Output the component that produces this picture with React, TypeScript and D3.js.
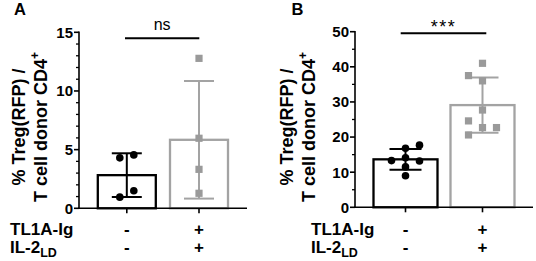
import React from "react";
import * as d3 from "d3";

// ---- data ----
const groups = ["control", "TL1A-Ig + IL-2LD"];
const rowLabels = ["TL1A-Ig", "IL-2"];
const rowSigns = [["-", "+"], ["-", "+"]];

const aControl = [4.3, 4.55, 1.5, 0.95];
const aControlSlot = [-1, 1, 1, -1];
const aTreated = [12.78, 5.97, 3.32, 1.28];
const aTreatedSlot = [0, 0, 0, 0];
const aTicks = [0, 5, 10, 15];
const aSig = "ns";

const bControl = [17.7, 16.8, 14.1, 13.3, 13.2, 11.5, 9.0];
const bControlSlot = [1, 0, 0, -1, 1, 0, 0];
const bTreated = [41.0, 37.5, 36.0, 27.7, 24.6, 22.7, 22.7, 20.6];
const bTreatedSlot = [0, -1, 0, 0, -1, 0, 1, -1];
const bTicks = [0, 10, 20, 30, 40, 50];
const bSig = "***";

const FONT = "'Liberation Sans', Arial, Helvetica, sans-serif";
const GRAY = "#a3a3a3";
const GRAY_PT = "#9a9a9a";

type PanelProps = {
  letter: string;
  ox: number;
  axisX: number;
  axisEnd: number;
  yTop: number;
  yBottom: number;
  domainMax: number;
  ticks: number[];
  minorStep: number;
  series: number[][];
  slots: number[][];
  jitter: number;
  barWidth: number;
  capWidth: number;
  centers: number[];
  sig: string;
  sigY: number;
  sigX: [number, number];
  labelX: [number, number];
  rowStartX: number;
};

function Panel(p: PanelProps) {
  const y = d3.scaleLinear().domain([0, p.domainMax]).range([p.yBottom, p.yTop]);
  const x = d3.scaleOrdinal<string, number>().domain(groups).range(p.centers);
  const minors = d3
    .range(0, p.domainMax + 0.001, p.minorStep)
    .filter((v) => !p.ticks.includes(v));
  const colors = ["#000", GRAY];
  const ptColors = ["#000", GRAY_PT];
  const midY = 127;
  const isNs = p.sig === "ns";

  return (
    <g>
      <text x={p.ox} y={15} fontFamily={FONT} fontWeight="bold" fontSize={16.5}>
        {p.letter}
      </text>

      {groups.map((g, i) => {
        const vals = p.series[i];
        const m = d3.mean(vals)!;
        return (
          <rect
            key={g}
            x={x(g) - p.barWidth / 2}
            y={y(m)}
            width={p.barWidth}
            height={y(0) - y(m)}
            fill="#fff"
            stroke={colors[i]}
            strokeWidth={2.3}
          />
        );
      })}

      {groups.map((g, i) => {
        const vals = p.series[i];
        const m = d3.mean(vals)!;
        const sd = d3.deviation(vals)!;
        const cx = x(g);
        return (
          <g key={g} stroke={colors[i]} strokeWidth={2}>
            <line x1={cx} x2={cx} y1={y(m + sd)} y2={y(m - sd)} />
            <line x1={cx - p.capWidth / 2} x2={cx + p.capWidth / 2} y1={y(m + sd)} y2={y(m + sd)} />
            <line x1={cx - p.capWidth / 2} x2={cx + p.capWidth / 2} y1={y(m - sd)} y2={y(m - sd)} />
          </g>
        );
      })}

      {groups.map((g, i) =>
        p.series[i].map((v, j) => {
          const cx = x(g) + p.slots[i][j] * p.jitter;
          return i === 0 ? (
            <circle key={g + j} cx={cx} cy={y(v)} r={3.8} fill={ptColors[i]} />
          ) : (
            <rect key={g + j} x={cx - 3.6} y={y(v) - 3.6} width={7.2} height={7.2} fill={ptColors[i]} />
          );
        })
      )}

      <line x1={p.axisX} x2={p.axisX} y1={p.yTop - 0.8} y2={p.yBottom} stroke="#000" strokeWidth={1.6} />
      {p.ticks.map((t) => (
        <g key={t}>
          <line x1={p.axisX - 5} x2={p.axisX} y1={y(t)} y2={y(t)} stroke="#000" strokeWidth={1.6} />
          <text
            x={p.axisX - 6}
            y={y(t)}
            dy="0.36em"
            textAnchor="end"
            fontFamily={FONT}
            fontWeight="bold"
            fontSize={15}
          >
            {t}
          </text>
        </g>
      ))}
      {minors.map((t) => (
        <line key={"m" + t} x1={p.axisX - 3} x2={p.axisX} y1={y(t)} y2={y(t)} stroke="#000" strokeWidth={1.3} />
      ))}

      <line x1={p.axisX - 0.8} x2={p.axisEnd} y1={p.yBottom} y2={p.yBottom} stroke="#000" strokeWidth={1.6} />
      {groups.map((g) => (
        <line key={g} x1={x(g)} x2={x(g)} y1={p.yBottom} y2={p.yBottom + 5} stroke="#000" strokeWidth={1.6} />
      ))}

      <text
        transform={`translate(${p.labelX[0]},${midY}) rotate(-90)`}
        textAnchor="middle"
        fontFamily={FONT}
        fontWeight="bold"
        fontSize={18}
      >
        % Treg(RFP) /
      </text>
      <text
        transform={`translate(${p.labelX[1]},${midY}) rotate(-90)`}
        textAnchor="middle"
        fontFamily={FONT}
        fontWeight="bold"
        fontSize={18}
      >
        T cell donor CD4
        <tspan fontSize={12} dy={-8}>
          +
        </tspan>
      </text>

      <line x1={p.sigX[0]} x2={p.sigX[1]} y1={p.sigY} y2={p.sigY} stroke="#000" strokeWidth={2} />
      <text
        x={(p.sigX[0] + p.sigX[1]) / 2}
        y={isNs ? 30 : 33}
        textAnchor="middle"
        fontFamily={FONT}
        fontSize={isNs ? 16 : 18}
        letterSpacing={isNs ? 0 : 1.5}
      >
        {p.sig}
      </text>

      <text x={p.rowStartX} y={235} fontFamily={FONT} fontWeight="bold" fontSize={17}>
        {rowLabels[0]}
      </text>
      <text x={p.rowStartX} y={253} fontFamily={FONT} fontWeight="bold" fontSize={17}>
        {rowLabels[1]}
        <tspan fontSize={12.5} dy={4}>
          LD
        </tspan>
      </text>
      {rowSigns.map((row, r) =>
        row.map((s, i) => (
          <text
            key={r + "-" + i}
            x={x(groups[i])}
            y={r === 0 ? 235 : 253}
            textAnchor="middle"
            fontFamily={FONT}
            fontWeight="bold"
            fontSize={17}
          >
            {s}
          </text>
        ))
      )}
    </g>
  );
}

export default function App() {
  return (
    <svg
      width={536}
      height={261}
      style={{ position: "absolute", left: 0, top: 0, background: "#fff" }}
    >
      <rect width={536} height={261} fill="#fff" />
      <Panel
        letter="A"
        ox={14}
        axisX={79}
        axisEnd={247}
        yTop={32.3}
        yBottom={208.3}
        domainMax={15}
        ticks={aTicks}
        minorStep={1}
        series={[aControl, aTreated]}
        slots={[aControlSlot, aTreatedSlot]}
        jitter={7}
        barWidth={58}
        capWidth={30}
        centers={[126.8, 199]}
        sig={aSig}
        sigY={38.3}
        sigX={[125, 199.3]}
        labelX={[25, 47]}
        rowStartX={10}
      />
      <Panel
        letter="B"
        ox={291.5}
        axisX={355}
        axisEnd={533}
        yTop={31.7}
        yBottom={207.3}
        domainMax={50}
        ticks={bTicks}
        minorStep={5}
        series={[bControl, bTreated]}
        slots={[bControlSlot, bTreatedSlot]}
        jitter={14}
        barWidth={64}
        capWidth={32}
        centers={[405.5, 482.5]}
        sig={bSig}
        sigY={33.3}
        sigX={[400.7, 486.3]}
        labelX={[293, 315]}
        rowStartX={311}
      />
    </svg>
  );
}
